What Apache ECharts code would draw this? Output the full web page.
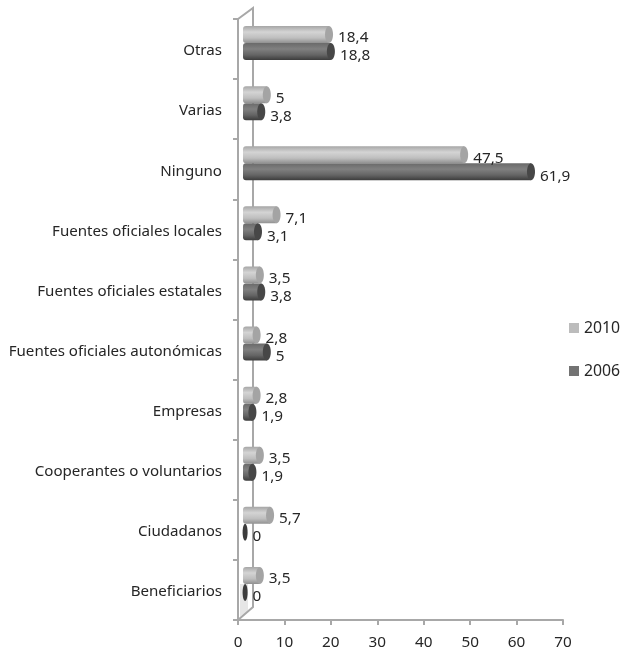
<!DOCTYPE html>
<html>
<head>
<meta charset="utf-8">
<style>html,body{margin:0;padding:0;background:#fff}#chart{width:621px;height:652px}</style>
<script src="https://cdn.jsdelivr.net/npm/echarts@6/dist/echarts.min.js"></script>
</head>
<body>
<div id="chart"></div>
<script>
// Categories run bottom to top on the vertical axis
const categories = ['Beneficiarios','Ciudadanos','Cooperantes o voluntarios','Empresas','Fuentes oficiales autonómicas','Fuentes oficiales estatales','Fuentes oficiales locales','Ninguno','Varias','Otras'];
const values2010 = [3.5,5.7,3.5,2.8,2.8,3.5,7.1,47.5,5,18.4];
const values2006 = [0,0,1.9,1.9,5,3.8,3.1,61.9,3.8,18.8];
const xTicks = {min:0,max:70,step:10};

const FONT = '"Noto Sans", sans-serif';
const TEXT = '#262626';
const WALL = '#a8a8a8';
const DEPTH_X = 15, DEPTH_Y = 13;   // pseudo-3D depth of the back wall
const BAR_H = 17, BAR_LEFT = 5, BAR_DX = 5.6, BAR_DY = -6, CAP = 4;

const palette = {
  light: {legend:'#bcbcbc', cap:'#a4a4a4', stops:[[0,'#a6a6a6'],[0.35,'#d4d4d4'],[0.7,'#bebebe'],[1,'#909090']]},
  dark:  {legend:'#737373', cap:'#474747', stops:[[0,'#6a6a6a'],[0.35,'#808080'],[0.7,'#646464'],[1,'#3c3c3c']]}
};

function fill(stops){
  return new echarts.graphic.LinearGradient(0,0,0,1,stops.map(s=>({offset:s[0],color:s[1]})));
}
// Horizontal cylinder from the axis base to the value, with an end cap and a value label
function cylinder(style, upper){
  return function(params, api){
    const end = api.coord([api.value(0), api.value(1)]);
    const base = api.coord([0, api.value(1)]);
    const x0 = base[0] + BAR_LEFT;
    const x1 = end[0] + BAR_DX;
    const top = end[1] + BAR_DY - (upper ? BAR_H : 0);
    const cy = top + BAR_H/2;
    const isZero = api.value(0) === 0;
    const children = [];
    if (!isZero) {
      children.push({type:'rect',shape:{x:x0,y:top,width:x1-x0,height:BAR_H,r:[3,0,0,3]},style:{fill:fill(style.stops)}});
      children.push({type:'ellipse',shape:{cx:x1,cy:cy,rx:CAP,ry:BAR_H/2},style:{fill:style.cap}});
    } else {
      children.push({type:'ellipse',shape:{cx:x1+1.5,cy:cy,rx:2.5,ry:BAR_H/2},style:{fill:'#3c3c3c'}});
    }
    children.push({type:'text',style:{
      x: x1 + CAP + 5, y: cy + (upper ? 3.5 : 4.5),
      text: String(api.value(0)).replace('.',','),
      font:'15.3px '+FONT, fill:TEXT, align:'left', verticalAlign:'middle'
    }});
    return {type:'group',children};
  };
}
// Back wall outline behind the plot, with the pale floor patch at its foot
function wall(params){
  const c = params.coordSys;
  const bottom = c.y + c.height;
  return {type:'group',silent:true,children:[
    {type:'polygon',shape:{points:[[c.x+2,bottom-36],[c.x+10,bottom-36],[c.x+10,bottom-10],[c.x+2,bottom-3]]},style:{fill:'#e6e6e6'}},
    {type:'polyline',shape:{points:[
      [c.x,c.y],[c.x+DEPTH_X,c.y-DEPTH_Y+2],[c.x+DEPTH_X,bottom-DEPTH_Y],[c.x,bottom]
    ]},style:{fill:null,stroke:WALL,lineWidth:2}}
  ]};
}
const rows = vals => vals.map((v,i)=>[v,i]);

const chart = echarts.init(document.getElementById('chart'),null,{renderer:'canvas'});
chart.setOption({
  animation:false,
  backgroundColor:'#fff',
  grid:{left:238,right:58,top:19,bottom:32},
  legend:{
    orient:'vertical',left:564,top:315,itemWidth:10,itemHeight:10,itemGap:27,icon:'rect',
    data:['2010','2006'],
    textStyle:{fontFamily:FONT,fontSize:15.8,color:TEXT},
    selectedMode:false
  },
  xAxis:{type:'value',min:xTicks.min,max:xTicks.max,interval:xTicks.step,
    splitLine:{show:false},
    axisLine:{show:true,lineStyle:{color:WALL,width:2}},
    axisTick:{show:true,length:5,lineStyle:{color:WALL,width:2}},
    axisLabel:{fontFamily:FONT,fontSize:15.3,color:TEXT,margin:15}
  },
  yAxis:{type:'category',data:categories,
    axisLine:{show:true,lineStyle:{color:WALL,width:2}},
    axisTick:{show:true,length:5,alignWithLabel:false,lineStyle:{color:WALL,width:2}},
    axisLabel:{fontFamily:FONT,fontSize:15.1,color:TEXT,margin:16,interval:0,verticalAlign:'top',lineHeight:4}
  },
  series:[
    {type:'custom',name:'wall',z:1,silent:true,renderItem:wall,data:[[0,0]],encode:{x:0,y:1},clip:false},
    {type:'custom',name:'2006',z:2,renderItem:cylinder(palette.dark,false),data:rows(values2006),encode:{x:0,y:1},itemStyle:{color:palette.dark.legend},clip:false},
    {type:'custom',name:'2010',z:3,renderItem:cylinder(palette.light,true),data:rows(values2010),encode:{x:0,y:1},itemStyle:{color:palette.light.legend},clip:false}
  ]
});
</script>
</body>
</html>
